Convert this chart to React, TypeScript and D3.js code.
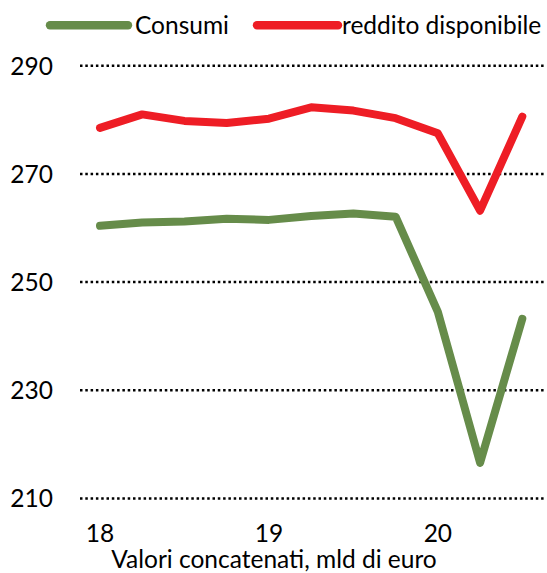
import React from "react";
import * as d3 from "d3";

const quarters = ["18Q1","18Q2","18Q3","18Q4","19Q1","19Q2","19Q3","19Q4","20Q1","20Q2","20Q3"];
const consumi = [260.4, 261.0, 261.2, 261.7, 261.5, 262.2, 262.7, 262.1, 244.5, 216.6, 243.2];
const reddito = [278.5, 281.0, 279.8, 279.4, 280.2, 282.3, 281.7, 280.3, 277.5, 263.2, 280.6];
const yTicks = [210, 230, 250, 270, 290];
const xLabels = ["18", "19", "20"];
const xLabelIdx = [0, 4, 8];
const seriesNames = ["Consumi", "reddito disponibile"];
const colors = ["#668C4A", "#EE1D25"];

const W = 547, H = 573;
const FONT = "Lato, 'Open Sans', sans-serif";
const FS = 24.5;

export default function App() {
  const x = d3.scaleLinear().domain([0, quarters.length - 1]).range([100, 522.3]);
  const y = d3.scaleLinear().domain([210, 290]).range([498.5, 65.7]);
  const line = d3.line<number>().x((_, i) => x(i)).y(d => y(d));
  const series = [consumi, reddito];
  return (
    <svg width={W} height={H} style={{ position: "absolute", left: 0, top: 0, background: "#fff" }}>
      {yTicks.map(t => (
        <g key={t}>
          <line x1={80} x2={545} y1={y(t)} y2={y(t)} stroke="#000" strokeWidth={2.5} strokeDasharray="2.5,2.8" />
          <text x={53} y={y(t)} dy="0.36em" textAnchor="end" fontFamily={FONT} fontSize={FS} fill="#000">{t}</text>
        </g>
      ))}
      {series.map((s, i) => (
        <path key={i} d={line(s) || ""} fill="none" stroke={colors[i]} strokeWidth={8} strokeLinecap="round" strokeLinejoin="round" />
      ))}
      {xLabels.map((l, i) => (
        <text key={l} x={x(xLabelIdx[i])} y={541.5} textAnchor="middle" fontFamily={FONT} fontSize={FS} fill="#000">{l}</text>
      ))}
      <text x={274} y={568} textAnchor="middle" fontFamily={FONT} fontSize={FS} fill="#000">Valori concatenati, mld di euro</text>
      {/* legend */}
      <line x1={50} x2={128} y1={25.2} y2={25.2} stroke={colors[0]} strokeWidth={8.4} strokeLinecap="round" />
      <text x={135} y={25.2} dy="0.36em" fontFamily={FONT} fontSize={FS} fill="#000">{seriesNames[0]}</text>
      <line x1={257} x2={338} y1={25.2} y2={25.2} stroke={colors[1]} strokeWidth={8.4} strokeLinecap="round" />
      <text x={342} y={25.2} dy="0.36em" fontFamily={FONT} fontSize={FS} fill="#000">{seriesNames[1]}</text>
    </svg>
  );
}
